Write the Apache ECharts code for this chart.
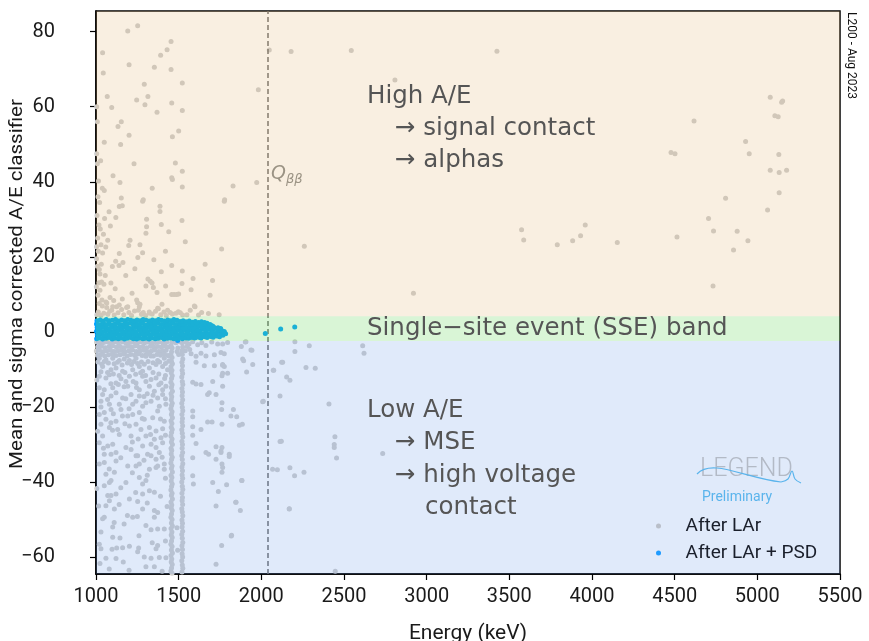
<!DOCTYPE html>
<html><head><meta charset="utf-8">
<script src="https://cdn.jsdelivr.net/npm/echarts@6/dist/echarts.min.js"></script>
<style>html,body{margin:0;padding:0;background:#fff}#c{width:869px;height:641px}</style>
</head><body><div id="c"></div>
<script>
// ---- axis ticks ----
const xTicks = [1000, 1500, 2000, 2500, 3000, 3500, 4000, 4500, 5000, 5500];
const yTicks = [-60, -40, -20, 0, 20, 40, 60, 80];
const qbb = 2039;
const sseBand = [-2.4, 4.2];

// ---- After LAr: high A/E region (energy keV, A/E) ----
const larHigh = [
[1252,81.6],[1192,80.2],[1040,74.4],[1044,69],[1200,71.2],[1454,77.4],[1430,75.2],[1391,73.7],[1353,70.5],[1454,69.9],
[1292,66],[1522,66.3],[1068,62.7],[1314,62.7],[1246,61.8],[1296,60.5],[1004,60],[1095,59.8],[1369,58.5],[1008,56],
[1153,56],[1133,54.7],[1149,49.9],[1008,44.8],[1480,45],[1522,42.8],[1103,41.6],[1145,39.8],[1458,41.1],[1462,40.6],
[1522,38.6],[1038,38.3],[1050,37.7],[1153,35.7],[1286,35.2],[1829,38.9],[1972,39.8],[1778,35.2],[1982,64.5],[2048,75.1],
[2180,74.7],[2544,75],[3425,74.8],[2808,67.1],[2260,22.8],[2920,10.3],[3574,27.2],[3587,24.5],[3790,23.2],[5078,62.5],
[5153,61.5],[5147,61.2],[5106,57.6],[5126,57.3],[4617,56.2],[4929,50.7],[4951,47.5],[4478,47.8],[4502,47.5],[5130,47.3],
[5078,43.1],[5132,42.5],[5177,43.1],[5132,37.1],[4808,35.6],[5062,32.5],[4705,30.2],[4735,26.9],[4878,26.8],[4943,24.3],
[4856,21.8],[4514,25.3],[4153,23.8],[3931,25.6],[3883,24.3],[3959,28.5],[4732,12.2],
[1159,33.6],[1141,33.4],[1282,34.8],[1387,33.5],[1387,32.1],[1776,34.8],[1079,32],[1052,30.2],[1087,28.2],[1026,27.4],
[1306,30],[1306,28],[1302,26.3],[1206,24.4],[1198,23],[1266,23.2],[1282,21.1],[1030,23.2],[1059,22.6],[1040,21],
[1141,20.9],[1760,22.1],[1119,18.8],[1163,18.5],[1099,17.4],[1139,17.7],[1020,16.6],[1024,15.4],[1034,13.3],[1048,12.7],
[1458,17.7],[1522,16.2],[1314,14.1],[1328,13.5],[1347,11.8],[1302,12.2],[1369,10.5],[1339,13],[1421,12.2],[1472,10],
[1500,10.1],[1520,12.9],[1587,14.2],[1218,10.3],[1159,8.8],[1085,9.2],[1107,8.4],[1065,7.7],[1036,8.5],[1018,13.1],
[1024,11.1],[1038,6.9],[1065,6.5],[1095,5.8],[1125,6.7],[1155,6],[1185,6.5],[1246,8.5],[1266,7.4],[1256,5.8],
[1286,5.2],[1322,5.3],[1377,6.2],[1411,5.3],[1448,5.2],[1498,5.4],[1599,6.7],[1639,5.2],[1458,10],[1488,10],
[1020,7.6],[1060,8],[1101,6.7],[1141,7.2],[1192,6.7],[1252,7.8],[1262,6.7],[1323,5],[1373,6.3],[1399,7.4],
[1433,5.8],[1484,5],[1524,4.5],[1595,6.9],
[1005,4.6],[1014,5.3],[1030,4.4],[1047,5],[1072,4.7],[1083,5.5],[1110,4.5],[1133,5.1],[1168,4.6],[1199,5.2],
[1215,4.4],[1233,5.6],[1275,4.7],[1300,4.4],[1340,4.8],[1360,5.5],[1392,4.6],[1425,4.4],[1462,4.8],[1510,5.1],
[1550,4.6],[1570,5.8],[1620,4.5],[1680,4.9],[1745,4.6],
[1003,19.5],[1010,25],[1006,31],[1012,36],[1018,28.5],[1002,12],[1008,17.5],[1014,21.5],[1022,34.5],[1032,18],
[1045,26],[1056,15],[1012,9.8],[1003,22.7],[1015,40.2],[1004,47.5],[1028,45.6],[1071,24.4],[1090,13],[1116,11.5],
[1180,15],[1235,16.8],[1253,19.8],[1350,19.2],[1420,21.5],[1395,16],[1440,26.7],[1520,29.7],[1540,24],[1575,11.2],
[1660,18],[1690,9.8],[1705,13.7],[1050,50.5],[1120,30.5],[1230,44.8],[1340,38.3],[1500,53.5],[1522,59],[1458,61],
[1462,52],[1395,28.6],[1200,52.4]
];

// ---- After LAr: low A/E region, continuum ----
const larLow = [
[1003,-2.7],[1024,-3.0],[1046,-2.8],[1069,-2.6],[1090,-3.1],[1113,-2.7],[1135,-2.9],[1160,-2.6],[1181,-3.0],[1204,-2.8],
[1226,-2.7],[1249,-3.1],[1270,-2.6],[1294,-2.9],[1315,-2.7],[1340,-3.0],[1361,-2.8],[1383,-2.6],[1405,-3.0],[1428,-2.7],
[1483,-2.9],[1503,-2.6],[1547,-2.8],[1563,-3.2],[1640,-2.9],[1700,-2.7],
[1010,-4.0],[1033,-3.8],[1055,-4.2],[1079,-3.9],[1100,-3.7],[1124,-4.1],[1147,-3.9],[1170,-4.2],[1192,-3.8],[1215,-4.0],
[1238,-3.7],[1262,-4.1],[1283,-3.9],[1306,-4.2],[1329,-3.8],[1350,-4.0],[1374,-3.9],[1396,-4.1],[1418,-3.7],[1440,-4.0],
[1495,-4.3],[1552,-3.9],
[1002,-5.1],[1021,-4.9],[1042,-5.3],[1064,-5.0],[1087,-4.8],[1108,-5.2],[1131,-5.0],[1153,-4.9],[1176,-5.3],[1199,-5.0],
[1221,-4.8],[1244,-5.2],[1267,-5.0],[1290,-4.9],[1312,-5.3],[1335,-5.1],[1357,-4.8],[1380,-5.2],[1402,-5.0],[1424,-4.9],
[1490,-5.2],[1540,-5.0],[1567,-4.7],
[1008,-6.2],[1031,-6.0],[1053,-6.4],[1076,-6.1],[1098,-5.9],[1121,-6.3],[1145,-6.1],[1166,-5.9],[1189,-6.4],[1210,-6.0],
[1234,-6.2],[1257,-5.8],[1279,-6.3],[1301,-6.1],[1324,-5.9],[1347,-6.4],[1369,-6.0],[1391,-6.2],[1414,-5.9],[1436,-6.3],
[1500,-6.0],
[1012,-8.0],[1035,-8.6],[1050,-7.9],[1075,-8.3],[1110,-8.5],[1130,-8.1],[1158,-8.8],[1190,-8.3],[1215,-8.7],[1230,-7.9],
[1252,-8.4],[1275,-8.0],[1292,-8.6],[1315,-7.9],[1345,-8.2],[1385,-8.0],[1420,-8.4],[1440,-7.8],[1030,-10.6],[1070,-10.8],
[1105,-11.2],[1140,-11.6],[1175,-10.8],[1240,-11.3],[1270,-10.9],[1300,-11.6],[1345,-10.8],[1380,-11.2],[1420,-11.6],[1005,-12.8],
[1090,-13.8],[1135,-14.0],[1170,-14.6],[1225,-13.2],[1245,-14.8],[1310,-16.5],[1345,-16.9],[1380,-14.1],[1415,-12.4],[1030,-20.0],
[1070,-18.0],[1105,-21.8],[1180,-17.8],[1200,-20.5],[1290,-17.2],[1420,-17.8],[1010,-26.5],[1090,-24.2],[1175,-24.5],[1255,-28.5],
[1330,-27.3],[1420,-27.5],[1100,-26.2],[1160,-22.4],[1220,-29.3],[1280,-23.1],[1390,-23.2],[1045,-31],[1150,-33.5],[1400,-33.4],
[1290,-34.2],[1080,-36.5],[1220,-37.5],[1310,-38.2],[1420,-39],[1150,-41.5],[1390,-43.8],[1005,-41.7],[1240,-42.8],[1110,-50.8],
[1170,-51.2],[1260,-54.3],[1340,-56.2],[1020,-56.6],[1200,-63.5],[1080,-63.2],[1400,-63.8],[1430,-46.5],[1060,-46.3],[1140,-46],
[1190,-48.9],[1250,-49.2],[1060,-60.3],[1420,-55.7],[1310,-45.6],
[1020,-7.0],[1060,-7.4],[1101,-7.0],[1141,-7.6],[1171,-7.2],[1202,-7.6],[1242,-7.0],[1302,-6.5],[1333,-6.4],[1373,-7.6],
[1413,-7.0],[1444,-6.5],[1040,-9.2],[1091,-10.1],[1121,-9.6],[1161,-10.5],[1222,-10.1],[1262,-9.2],[1282,-10.5],[1323,-9.6],
[1363,-8.7],[1403,-9.2],[1433,-10.1],[1020,-11.8],[1060,-12.3],[1081,-11.4],[1121,-13.6],[1151,-12.5],[1181,-13.2],[1202,-11.8],
[1242,-13.6],[1282,-11.8],[1302,-13.2],[1333,-12.7],[1363,-12.3],[1393,-13.6],[1423,-14.5],[1020,-14.9],[1050,-15.4],[1101,-14.9],
[1192,-14.5],[1262,-15.4],[1323,-14.5],[1353,-15.8],[1403,-15.4],[1040,-16.7],[1091,-17.1],[1121,-16.2],[1161,-17.6],[1212,-16.7],
[1262,-17.1],[1302,-18.9],[1333,-18.5],[1373,-17.6],[1403,-16.7],[1030,-18.5],[1081,-19.3],[1141,-19.3],[1222,-19.3],[1242,-18.5],
[1282,-19.8],[1383,-19.8],[1423,-19.3],[1020,-22],[1050,-21.5],[1091,-20.7],[1151,-20.7],[1192,-22.4],[1222,-22],[1262,-21.5],
[1292,-23.3],[1343,-22.9],[1373,-21.1],[1413,-23.8],[1121,-23.8],[1060,-23.3],[1030,-24.6],[1081,-25.5],[1131,-26],[1202,-25.1],
[1242,-24.6],[1272,-26],[1323,-25.5],[1363,-26.4],[1403,-25.8],[1040,-27.7],[1141,-27.3],[1212,-27.7],[1302,-27.7],[1353,-28.6],
[1393,-28.2],[1020,-29.5],[1071,-30.4],[1101,-29.9],[1181,-30.8],[1212,-31.3],[1282,-30.4],[1333,-29.9],[1363,-30.8],[1403,-29.5],
[1050,-32.6],[1121,-32.1],[1242,-33],[1312,-32.6],[1383,-32.1],
[1020,-35.2],[1050,-34.8],[1091,-32.6],[1121,-34.4],[1111,-37.4],[1060,-37.9],[1091,-39.6],[1050,-41],[1081,-40.1],[1071,-43.6],
[1091,-43.6],[1121,-43.2],[1081,-45],[1111,-47.2],[1016,-46.4],[1050,-49.4],[1040,-49.8],[1030,-53.3],[1101,-52],[1101,-54.7],
[1145,-54.9],[1030,-57.8],[1097,-57.9],[1125,-57.6],[1161,-57.5],[1202,-57.1],[1258,-57.6],[1252,-58.6],[1121,-60.4],[1165,-61.3],
[1024,-61.7],[1292,-60.0],[1333,-60.3],[1383,-60.1],[1423,-60.2],[1353,-62.6],[1192,-35.7],[1181,-40.1],[1242,-35.7],[1262,-35.2],
[1262,-38.8],[1282,-40.5],[1302,-39.6],[1323,-42.3],[1353,-42.7],[1282,-43.2],[1323,-36.6],[1363,-36.1],[1373,-35.7],[1413,-36.6],
[1413,-35.2],[1363,-33.9],[1333,-33],[1252,-33],[1202,-44.5],[1252,-45.2],[1282,-47.2],[1222,-49.4],[1302,-51.6],[1353,-47.6],
[1373,-48.1],[1353,-49.4],[1373,-52.5],[1333,-52.7],[1413,-52.5],[1373,-56.9],[1302,-62.6],[1363,-57.8]
];

// ---- After LAr: low A/E region above 1500 keV ----
const larLowHigh = [
[1585,-2.6],[1615,-3.4],[1665,-3.6],[1736,-3.2],[1766,-3.2],[1796,-2.8],[1879,-3.9],[1907,-2.6],[1937,-4.8],[1575,-5.8],
[1605,-6.5],[1635,-5.7],[1665,-6.4],[1716,-6.1],[1756,-5.5],[1776,-5.8],[1887,-7.2],[1948,-8.7],[2075,-10.2],[1911,-10.7],
[1605,-8.1],[1655,-9.0],[1716,-9.0],[1766,-8.7],[1776,-9.2],[1766,-11],[1762,-11.7],[1796,-11],[1585,-13.4],[1605,-13.9],
[1635,-14],[1706,-13.2],[1766,-14.5],[1685,-16.2],[1675,-16.7],[1726,-16.7],[1762,-18.9],[1760,-20.7],[1831,-20.7],[1816,-22.4],
[2008,-18.6],[1585,-21.1],[1585,-22.6],[1585,-25.3],[1635,-26],[1675,-24],[1702,-24],[1762,-24.6],[1867,-24.9],[1585,-27.5],
[1605,-29.7],[1665,-32.1],[1726,-30.6],[1762,-30.8],[1756,-32.1],[1806,-32.6],
[1585,-33.5],[1681,-32.6],[1756,-31.7],[1726,-33.9],[1762,-35.2],[1766,-36.1],[1806,-33.2],[1762,-37.4],[1585,-38.3],[1589,-40.5],
[1706,-40.1],[1740,-42.5],[1790,-40.7],[1883,-39.6],[1726,-46.4],[1847,-45.4],[1873,-47.6],[1490,-52.2],[1494,-58.2],[1818,-54.4],
[1760,-56.9],[1726,-61.9],[2068,-36.6],
[2203,-2.6],[2290,-3.7],[2613,-3.7],[2203,-5.2],[2621,-5.7],[2129,-8.1],[2270,-9.5],[2326,-9.7],[2153,-12],[2173,-12.9],
[2113,-17.1],[2409,-19.2],[2121,-29.1],[2445,-27.9],[2441,-30],[2441,-30.8],[2455,-33.6],[2734,-32.4],[2173,-36.2],[2201,-38.3],
[2258,-37.4],[2169,-47.2],[2447,-63.8],[2113,-29.2],[2097,-36.7],[2169,-47.1],[1881,-39.6],[1845,-45.4],[1820,-54.2],[2012,-18.5],
[1885,-24.6],[1851,-22.6],[1903,-2.7],[1943,-4.9],[2123,-8.1],[2072,-10.2],[1893,-7.7],[1766,-8.9]
];

// ---- After LAr: 40K (1461 keV) and 42K (1525 keV) gamma lines ----
const larK40 = [
[1458,-2.8],[1454,-3.7],[1461,-4.3],[1457,-5.3],[1453,-6.1],[1460,-6.8],[1456,-7.8],[1462,-8.5],[1454,-9.2],[1459,-10.2],
[1455,-10.9],[1461,-11.7],[1457,-12.4],[1453,-13.4],[1460,-14.1],[1456,-14.8],[1462,-15.8],[1454,-16.5],[1458,-17.3],[1455,-18.1],
[1461,-19.0],[1457,-19.6],[1453,-20.5],[1460,-21.3],[1456,-22.0],[1462,-22.9],[1454,-23.7],[1459,-24.4],[1455,-25.4],[1461,-26.0],
[1457,-26.8],[1453,-27.7],[1460,-28.5],[1456,-29.3],[1462,-30.0],[1454,-31.0],[1458,-31.6],[1455,-32.5],[1461,-33.4],[1457,-34.0],
[1453,-34.9],[1460,-35.7],[1456,-36.4],[1462,-37.3],[1454,-38.2],[1459,-38.8],[1455,-39.7],[1461,-40.5],[1457,-41.2],[1453,-42.1],
[1460,-43.0],[1456,-43.6],[1462,-44.5],[1454,-45.3],[1458,-46.1],[1455,-46.9],[1461,-47.6],[1457,-48.5],[1453,-49.4],[1460,-50.0],
[1456,-50.9],[1462,-51.7],[1454,-52.4],[1459,-53.3],[1455,-54.1],[1461,-54.8],[1457,-55.7],[1453,-56.6],[1460,-57.2],[1456,-58.1],
[1462,-58.9],[1454,-59.6],[1458,-60.5],[1455,-61.3],[1461,-62.0],[1457,-62.9],[1453,-63.7],[1460,-64.3]
];
const larK42 = [
[1521,-2.9],[1524,-4.0],[1519,-5.1],[1522,-6.0],[1525,-7.2],[1520,-8.1],[1523,-9.0],[1521,-10.2],[1524,-11.1],[1519,-12.0],
[1522,-13.2],[1525,-14.0],[1520,-15.1],[1523,-16.0],[1521,-17.0],[1524,-18.1],[1519,-19.0],[1522,-20.1],[1525,-21.0],[1520,-22.0],
[1523,-23.1],[1521,-24.0],[1524,-25.0],[1519,-26.1],[1522,-27.0],[1525,-28.0],[1520,-29.1],[1523,-30.0],[1521,-31.0],[1524,-32.1],
[1519,-33.0],[1522,-34.0],[1525,-35.1],[1520,-36.0],[1523,-37.0],[1521,-38.1],[1524,-39.0],[1519,-40.0],[1522,-41.1],[1525,-42.0],
[1520,-43.0],[1523,-44.1],[1521,-45.0],[1524,-46.0],[1519,-47.1],[1522,-48.0],[1525,-49.0],[1520,-50.1],[1523,-51.0],[1521,-52.0],
[1524,-53.1],[1519,-54.0],[1522,-55.0],[1525,-56.1],[1520,-57.0],[1523,-58.0],[1521,-59.1],[1524,-60.0],[1519,-61.0],[1522,-62.1],
[1525,-63.0],[1520,-64.0]
];

// ---- After LAr + PSD (single-site band) ----
const psd = [
[1004,-1.8],[1023,-1.6],[1040,-1.9],[1061,-1.7],[1079,-1.5],[1098,-1.9],[1114,-1.7],[1135,-1.8],[1151,-1.6],[1172,-1.9],
[1189,-1.7],[1209,-1.5],[1226,-1.8],[1246,-1.9],[1263,-1.6],[1284,-1.8],[1300,-1.7],[1321,-1.9],[1337,-1.6],[1358,-1.8],
[1375,-1.7],[1395,-1.5],[1412,-1.9],[1432,-1.7],[1449,-1.6],[1470,-1.8],[1486,-1.7],[1494,-2.3],[1507,-1.5],[1523,-1.8],
[1544,-1.6],[1561,-1.7],[1581,-1.5],[1598,-1.6],[1619,-1.4],[1635,-1.6],[1656,-1.3],[1672,-1.5],[1693,-1.2],[1709,-1.4],
[1730,-1.1],[1747,-1.3],[1767,-0.9],
[1008,-0.8],[1027,-0.6],[1045,-0.9],[1066,-0.7],[1083,-0.5],[1103,-0.9],[1120,-0.7],[1139,-0.8],[1157,-0.6],[1176,-0.9],
[1195,-0.7],[1213,-0.5],[1232,-0.8],[1251,-0.9],[1269,-0.6],[1288,-0.8],[1306,-0.7],[1325,-0.9],[1343,-0.6],[1362,-0.8],
[1381,-0.7],[1399,-0.5],[1418,-0.9],[1437,-0.7],[1455,-0.6],[1474,-0.8],[1492,-0.7],[1511,-0.5],[1529,-0.8],[1548,-0.6],
[1567,-0.7],[1585,-0.5],[1604,-0.6],[1622,-0.4],[1641,-0.6],[1660,-0.3],[1678,-0.5],[1697,-0.2],[1715,-0.4],[1734,-0.1],
[1752,-0.3],[1771,-0.2],[1784,-0.5],
[1003,0.2],[1019,0.4],[1037,0.1],[1056,0.3],[1074,0.5],[1093,0.1],[1111,0.3],[1130,0.2],[1148,0.4],[1167,0.1],
[1186,0.3],[1204,0.5],[1223,0.2],[1241,0.1],[1260,0.4],[1279,0.2],[1297,0.3],[1316,0.1],[1334,0.4],[1353,0.2],
[1371,0.3],[1390,0.5],[1409,0.1],[1427,0.3],[1446,0.4],[1464,0.2],[1483,0.3],[1502,0.5],[1520,0.2],[1539,0.4],
[1557,0.3],[1576,0.5],[1594,0.4],[1613,0.6],[1632,0.4],[1650,0.7],[1669,0.5],[1687,0.8],[1706,0.6],[1724,0.9],
[1743,0.6],[1760,0.4],[1776,0.1],
[1007,1.2],[1026,1.0],[1044,1.3],[1063,1.1],[1081,0.9],[1100,1.3],[1119,1.1],[1137,1.2],[1156,1.0],[1174,1.3],
[1193,1.1],[1211,0.9],[1230,1.2],[1249,1.3],[1267,1.0],[1286,1.2],[1304,1.1],[1323,1.3],[1342,1.0],[1360,1.2],
[1379,1.1],[1397,0.9],[1416,1.3],[1435,1.1],[1453,1.0],[1472,1.2],[1490,1.1],[1509,1.3],[1527,1.2],[1546,1.0],
[1565,1.3],[1583,1.4],[1602,1.2],[1620,1.5],[1639,1.3],[1658,1.6],[1676,1.4],[1695,1.7],[1712,1.3],[1738,1.1],
[1754,0.9],
[1003,2.1],[1022,1.9],[1041,2.3],[1059,2.0],[1078,2.2],[1096,1.8],[1115,2.1],[1134,2.3],[1152,1.9],[1171,2.0],
[1189,2.2],[1208,2.3],[1226,1.9],[1245,2.1],[1264,2.0],[1282,2.3],[1301,1.8],[1319,2.1],[1338,2.2],[1357,1.9],
[1375,2.3],[1394,2.0],[1412,2.1],[1431,2.2],[1449,1.9],[1468,2.3],[1487,2.0],[1505,2.2],[1524,2.1],[1542,2.0],
[1561,2.3],[1580,2.1],[1598,2.0],[1617,2.2],[1635,2.4],[1654,2.1],[1672,2.3],[1690,2.0],[1705,1.6],
[1006,3.0],[1025,3.2],[1043,2.9],[1062,3.3],[1081,3.0],[1099,3.1],[1118,3.3],[1136,2.9],[1155,3.2],[1173,3.0],
[1192,3.3],[1211,3.1],[1229,2.9],[1248,3.2],[1266,3.0],[1285,3.3],[1303,3.1],[1322,2.9],[1341,3.2],[1359,3.0],
[1378,3.3],[1396,3.1],[1415,2.9],[1434,3.2],[1452,3.0],[1471,3.3],[1490,3.1],[1508,2.8],[1527,3.0],[1545,2.7],
[1564,2.9],[1583,2.6],[1601,2.8],[1620,2.5],[1638,2.7],[1657,2.5],
[2024,-0.4],[2117,0.8],[2202,1.3]
];

const larAll = larHigh.concat(larLow, larLowHigh, larK40, larK42);

const chart = echarts.init(document.getElementById('c'), null, {renderer: 'canvas'});
const txt = '#555555';
const annFont = '24.5px "DejaVu Sans"';
function ann(text, x, y, font) {
  return {type: 'text', x: x, y: y, z: 100, silent: true,
    style: {text: text, font: font || annFont, fill: txt, textAlign: 'left', verticalAlign: 'middle'}};
}
chart.setOption({
  animation: false,
  backgroundColor: '#ffffff',
  grid: {left: 96, right: 29, top: 11, bottom: 67, show: true, borderColor: '#000', borderWidth: 1.5,
    backgroundColor: 'transparent', containLabel: false, outerBoundsMode: 'none'},
  xAxis: {
    type: 'value', min: xTicks[0], max: xTicks[xTicks.length - 1], interval: 500,
    name: 'Energy (keV)', nameLocation: 'middle', nameGap: 49, nameMoveOverlap: false,
    nameTextStyle: {fontFamily: 'Roboto', fontSize: 21, color: '#1a1a1a'},
    axisLine: {show: true, onZero: false, lineStyle: {color: '#000', width: 1.5}},
    axisTick: {show: true, length: 6, lineStyle: {color: '#000', width: 1.2}},
    axisLabel: {fontFamily: 'Roboto', fontSize: 20, color: '#1a1a1a', margin: 13, formatter: v => String(v)},
    splitLine: {show: false}
  },
  yAxis: {
    type: 'value', min: -64.5, max: 85.5,
    axisLine: {show: true, onZero: false, lineStyle: {color: '#000', width: 1.5}},
    axisTick: {show: true, length: 6, customValues: yTicks, lineStyle: {color: '#000', width: 1.2}},
    axisLabel: {fontFamily: 'Roboto', fontSize: 20, color: '#1a1a1a', margin: 41, customValues: yTicks,
      formatter: v => String(v).replace('-', '\u2212')},
    splitLine: {show: false}
  },
  legend: {
    z: 20, orient: 'vertical', left: 651, top: 511, icon: 'circle', itemWidth: 44, itemHeight: 5, itemGap: 7,
    textStyle: {fontFamily: 'Roboto', fontSize: 19, color: '#1a1f2b', lineHeight: 20},
    data: [{name: 'After LAr', itemStyle: {color: '#b9bfc9'}}, {name: 'After LAr + PSD', itemStyle: {color: '#1e9bff'}}]
  },
  series: [
    {name: 'After LAr', type: 'scatter', z: 2, symbolSize: 5, data: larAll,
      itemStyle: {color: '#cdcdcd', opacity: 1},
      markLine: {silent: true, symbol: 'none', label: {show: false}, z: 3,
        lineStyle: {color: '#6e6e6e', width: 1.5, type: [5, 3]},
        data: [{xAxis: qbb}]}},
    {name: 'After LAr + PSD', type: 'scatter', z: 3, symbolSize: 5, data: psd,
      itemStyle: {color: '#00a3ff', opacity: 1}},
    {name: 'zones', type: 'scatter', z: 8, data: [], silent: true,
      markArea: {silent: true, z: 8, data: [
        [{xAxis: xTicks[0], yAxis: sseBand[1], itemStyle: {color: 'rgba(225,175,105,0.2)'}}, {xAxis: xTicks[xTicks.length - 1], yAxis: 85.5}],
        [{xAxis: xTicks[0], yAxis: sseBand[0], itemStyle: {color: 'rgba(103,215,91,0.25)'}}, {xAxis: xTicks[xTicks.length - 1], yAxis: sseBand[1]}],
        [{xAxis: xTicks[0], yAxis: -64.5, itemStyle: {color: 'rgba(100,150,230,0.2)'}}, {xAxis: xTicks[xTicks.length - 1], yAxis: sseBand[0]}]
      ]}}
  ],
  graphic: [
    {type: 'text', x: 17, y: 284, rotation: Math.PI / 2, scaleX: 1.14, z: 100, silent: true,
      style: {text: 'Mean and sigma corrected A/E classifier', font: '18px Roboto', fill: '#1a1a1a', textAlign: 'center', verticalAlign: 'middle'}},
    ann('High A/E', 367, 97),
    ann('\u2192 signal contact', 395, 129),
    ann('\u2192 alphas', 395, 161),
    ann('Single\u2212site event (SSE) band', 367, 329),
    ann('Low A/E', 367, 411),
    ann('\u2192 MSE', 395, 443),
    ann('\u2192 high voltage', 395, 476),
    ann('contact', 425, 508),
    {type: 'text', x: 271, y: 174, z: 100, silent: true,
      style: {text: 'Q', font: 'italic 19px "DejaVu Sans"', fill: '#9b9384', textAlign: 'left', verticalAlign: 'middle'}},
    {type: 'text', x: 286, y: 180, z: 100, silent: true,
      style: {text: '\u03b2\u03b2', font: 'italic 13px "DejaVu Sans"', fill: '#9b9384', textAlign: 'left', verticalAlign: 'middle'}},
    {type: 'text', x: 851, y: 12, rotation: -Math.PI / 2, z: 100, silent: true,
      style: {text: 'L200 - Aug 2023', font: '12px Roboto', fill: '#111', textAlign: 'left', verticalAlign: 'middle'}},
    {type: 'text', x: 700, y: 470, z: 100, silent: true,
      style: {text: 'LEGEND', font: '300 25px Roboto', fill: '#b3bac6', textAlign: 'left', verticalAlign: 'middle'}},
    {type: 'bezierCurve', z: 101, silent: true,
      shape: {x1: 697, y1: 474, cpx1: 712, cpy1: 458, cpx2: 745, cpy2: 478, x2: 781, y2: 482},
      style: {stroke: '#5ab4ec', lineWidth: 1.2, fill: null}},
    {type: 'polyline', z: 101, silent: true,
      shape: {points: [[781, 482], [788, 479], [792, 471], [795, 479], [801, 483]], smooth: 0.4},
      style: {stroke: '#5ab4ec', lineWidth: 1.2, fill: null}},
    {type: 'text', x: 702, y: 497, z: 100, silent: true,
      style: {text: 'Preliminary', font: '14px Roboto', fill: '#5ab4ec', textAlign: 'left', verticalAlign: 'middle', letterSpacing: 1.2}}
  ]
});
</script></body></html>
